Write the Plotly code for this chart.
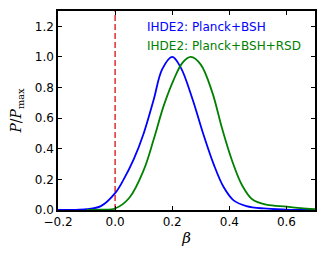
import plotly.graph_objects as go

# Blue: IHDE2: Planck+BSH
beta_bsh = [-0.2, -0.15, -0.1, -0.05, 0.0, 0.03, 0.065, 0.1, 0.135, 0.165, 0.2, 0.23,
            0.27, 0.31, 0.345, 0.38, 0.415, 0.46, 0.52, 0.6, 0.7]
p_bsh = [0.0, 0.001, 0.005, 0.025, 0.11, 0.2, 0.33, 0.5, 0.72, 0.92, 1.0, 0.93,
         0.73, 0.49, 0.3, 0.15, 0.063, 0.026, 0.01, 0.003, 0.0]

# Green: IHDE2: Planck+BSH+RSD
beta_rsd = [-0.1, -0.05, 0.0, 0.05, 0.1, 0.135, 0.17, 0.205, 0.235, 0.265, 0.3, 0.34,
            0.375, 0.41, 0.445, 0.48, 0.53, 0.6, 0.65, 0.7]
p_rsd = [0.0, 0.002, 0.01, 0.08, 0.26, 0.46, 0.68, 0.85, 0.96, 1.0, 0.95, 0.77,
         0.53, 0.32, 0.16, 0.07, 0.035, 0.022, 0.012, 0.005]

ref_x = [0.0, 0.0]
ref_y = [0.0, 1.3]

labels = ["IHDE2: Planck+BSH", "IHDE2: Planck+BSH+RSD"]
colors = ["#0000ff", "#008000"]

x_ticks = [-0.2, 0.0, 0.2, 0.4, 0.6]
x_ticktext = ["\u22120.2", "0.0", "0.2", "0.4", "0.6"]
y_ticks = [0.0, 0.2, 0.4, 0.6, 0.8, 1.0, 1.2]

fig = go.Figure()
fig.add_trace(go.Scatter(x=ref_x, y=ref_y, mode="lines",
                         line=dict(color="#e03030", width=1.5, dash="6px,3px"),
                         showlegend=False))
fig.add_trace(go.Scatter(x=beta_bsh, y=p_bsh, mode="lines", name=labels[0],
                         line=dict(color=colors[0], width=1.8, shape="spline", smoothing=1.0),
                         showlegend=False))
fig.add_trace(go.Scatter(x=beta_rsd, y=p_rsd, mode="lines", name=labels[1],
                         line=dict(color=colors[1], width=1.8, shape="spline", smoothing=1.0),
                         showlegend=False))

for i, (lab, col) in enumerate(zip(labels, colors)):
    fig.add_annotation(xref="paper", yref="paper", x=0.34, y=[0.92, 0.824][i],
                       xanchor="left", yanchor="middle", text=lab, showarrow=False,
                       font=dict(color=col, size=12, family="DejaVu Sans"))

axis_common = dict(showline=True, linecolor="black", linewidth=1.5, mirror="allticks",
                   ticks="inside", ticklen=4, tickwidth=1, tickcolor="black",
                   showgrid=False, zeroline=False, automargin=False,
                   tickfont=dict(family="DejaVu Sans", size=12, color="black"))

fig.update_xaxes(range=[-0.2, 0.7], tickvals=x_ticks, ticktext=x_ticktext,
                 title=dict(text="<i>β</i>", font=dict(family="DejaVu Serif", size=15, color="black"),
                            standoff=2),
                 **axis_common)
fig.update_yaxes(range=[0, 1.3], tickvals=y_ticks, tickformat=".1f",
                 title=dict(text="<i>P</i>/<i>P</i><sub>max</sub>",
                            font=dict(family="DejaVu Serif", size=14, color="black"),
                            standoff=10),
                 **axis_common)

fig.update_layout(width=326, height=267, margin=dict(l=58, r=11, t=11, b=57),
                  plot_bgcolor="white", paper_bgcolor="white")

fig.write_html("out.html", config={"displayModeBar": False},
               post_script="document.body.style.margin='0';document.body.style.padding='0';")
